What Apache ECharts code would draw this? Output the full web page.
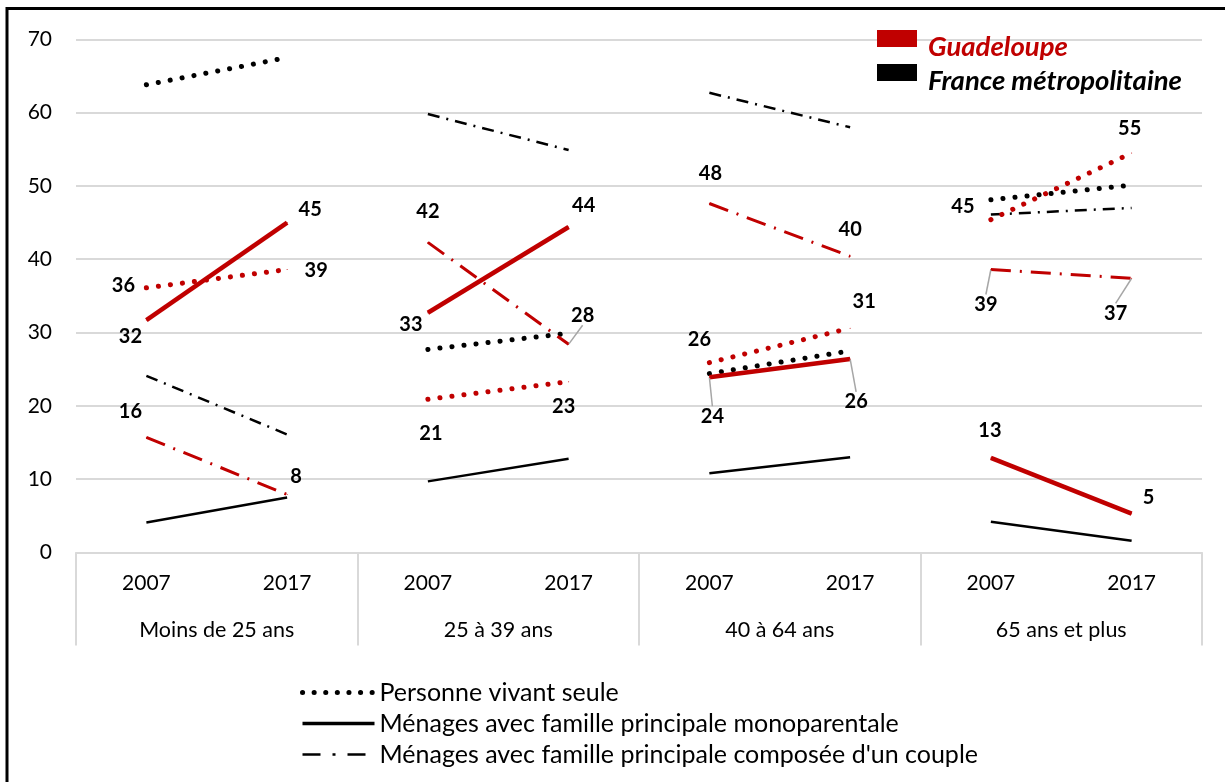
<!DOCTYPE html>
<html>
<head>
<meta charset="utf-8">
<script src="https://cdn.jsdelivr.net/npm/echarts@6/dist/echarts.min.js"></script>
<style>
  html, body { margin: 0; padding: 0; background: #fff; }
  #chart { width: 1225px; height: 782px; }
</style>
</head>
<body>
<div id="chart"></div>
<script>
// Age groups and survey years
const groups = ['Moins de 25 ans', '25 à 39 ans', '40 à 64 ans', '65 ans et plus'];
const years = ['2007', '2017'];

// Share of households (%) — order: each group, 2007 then 2017
const gdpSeule  = [36.1, 38.6, 20.9, 23.3, 25.9, 30.6, 45.4, 54.5];
const gdpMono   = [31.7, 45.0, 32.7, 44.4, 23.9, 26.4, 12.9, 5.3];
const gdpCouple = [15.7, 7.9, 42.3, 28.4, 47.6, 40.4, 38.6, 37.4];
const frSeule   = [63.8, 67.5, 27.7, 29.9, 24.4, 27.5, 48.1, 50.1];
const frMono    = [4.1, 7.5, 9.7, 12.8, 10.8, 13.0, 4.2, 1.6];
const frCouple  = [24.1, 16.1, 59.8, 54.9, 62.7, 58.0, 46.1, 47.0];

// Value axis
const yMin = 0, yMax = 70, yStep = 10;

// Legend entries
const areaNames = ['Guadeloupe', 'France métropolitaine'];
const typeNames = [
  'Personne vivant seule',
  'Ménages avec famille principale monoparentale',
  "Ménages avec famille principale composée d'un couple"
];

const RED = '#c00000';
const BLACK = '#000000';
const GRID = '#d9d9d9';
const FONT = 'Lato, "Open Sans", sans-serif';

const categories = [];
groups.forEach(() => years.forEach(y => categories.push(y)));

// Line looks per household type and area
const looks = {
  seule:  { gdp: { type: [0.1, 12], width: 5, cap: 'round' }, fr: { type: [0.1, 12], width: 5, cap: 'round' } },
  mono:   { gdp: { type: 'solid', width: 4.5, cap: 'butt' }, fr: { type: 'solid', width: 2.5, cap: 'butt' } },
  couple: { gdp: { type: [20, 9, 2, 9], width: 3, cap: 'butt' }, fr: { type: [12, 7, 2, 7], width: 2.5, cap: 'butt' } }
};

// Label placement (label centre relative to its point) and leader-line ends
const labelPlacement = {
  seule:  [[-23, -2], [29, 1], [3, 34], [-5, 25], [-10, -23], [14, -27], [-28, -13], [-2, -24]],
  mono:   [[-16, 16], [23, -13], [-17, 12], [15, -21], [3, 39], [6, 43], [-1, -27], [17, -16]],
  couple: [[-16, -26], [9, -18], [0, -31], [14, -29], [1, -30], [0, -27], [-5, 35], [-16, 35]]
};
const leaders = {
  seule: {},
  mono: { 4: [0, -19], 5: [0, -19] },
  couple: { 3: [-1, 16], 6: [0, -18], 7: [0, -18] }
};

function segmentSeries(values, kind, area, g) {
  const color = area === 'gdp' ? RED : BLACK;
  const labelled = area === 'gdp';
  const data = new Array(categories.length).fill('-');
  for (let k = 0; k < years.length; k++) {
    const i = g * years.length + k;
    if (labelled && leaders[kind][i]) {
      data[i] = { value: values[i], labelLine: { show: true, lineStyle: { color: '#a6a6a6', width: 1.5 } } };
    } else {
      data[i] = values[i];
    }
  }
  const s = {
    name: area + '-' + kind + '-' + g,
    type: 'line',
    xAxisIndex: 0,
    yAxisIndex: 0,
    data: data,
    connectNulls: false,
    showSymbol: labelled,
    symbol: 'circle',
    symbolSize: 1,
    itemStyle: { color: color },
    lineStyle: Object.assign({ color: color }, looks[kind][area]),
    emphasis: { disabled: true },
    silent: true,
    z: area === 'gdp' ? 3 : 2
  };
  if (labelled) {
    s.label = {
      show: true,
      position: 'inside',
      formatter: p => String(Math.round(p.value)),
      fontFamily: FONT,
      fontWeight: 'bold',
      fontSize: 20,
      color: '#000'
    };
    s.labelLayout = function (params) {
      const i = params.dataIndex;
      const off = labelPlacement[kind][i];
      const cx = params.rect.x + params.rect.width / 2;
      const cy = params.rect.y + params.rect.height / 2;
      const res = { x: cx + off[0], y: cy + off[1], align: 'center', verticalAlign: 'middle' };
      const ld = leaders[kind][i];
      if (ld) {
        res.labelLinePoints = [[cx, cy], [cx + off[0] + ld[0], cy + off[1] + ld[1]]];
      }
      return res;
    };
  }
  return s;
}

const series = [];
const sets = [
  ['fr', 'seule', frSeule], ['fr', 'mono', frMono], ['fr', 'couple', frCouple],
  ['gdp', 'seule', gdpSeule], ['gdp', 'mono', gdpMono], ['gdp', 'couple', gdpCouple]
];
sets.forEach(([area, kind, values]) => {
  groups.forEach((_, g) => series.push(segmentSeries(values, kind, area, g)));
});

// Legend carriers
series.push({ name: areaNames[0], type: 'line', data: [], itemStyle: { color: RED }, lineStyle: { color: RED } });
series.push({ name: areaNames[1], type: 'line', data: [], itemStyle: { color: BLACK }, lineStyle: { color: BLACK } });
const legendLooks = [
  { color: BLACK, type: [0.1, 11.5], width: 5, cap: 'round' },
  { color: BLACK, type: 'solid', width: 3.5, cap: 'butt' },
  { color: BLACK, type: [18, 12, 3, 12], width: 2.5, cap: 'butt' }
];
typeNames.forEach((n, i) => {
  series.push({
    name: n, type: 'line', data: [], symbol: 'none',
    itemStyle: { color: BLACK },
    lineStyle: Object.assign({}, legendLooks[i])
  });
});

// Swatch occupying the top half of the legend item, so the name sits a little lower
const swatchIcon = 'path://M0,0H40V17H0Z M0,34L0.01,34';

const chart = echarts.init(document.getElementById('chart'), null, { renderer: 'canvas' });
chart.setOption({
  animation: false,
  backgroundColor: '#fff',
  textStyle: { fontFamily: FONT },
  grid: { left: 76, right: 23, top: 39.3, bottom: 229.5, containLabel: false, outerBoundsMode: 'none' },
  xAxis: [
    {
      type: 'category',
      data: categories,
      boundaryGap: true,
      position: 'bottom',
      axisLine: { show: true, lineStyle: { color: GRID, width: 2 } },
      axisTick: { show: false },
      axisLabel: { interval: 0, margin: 20, fontSize: 21, color: '#000', fontFamily: FONT },
      splitLine: { show: false }
    },
    {
      type: 'category',
      data: groups,
      boundaryGap: true,
      position: 'bottom',
      offset: 0,
      axisLine: { show: false },
      axisTick: { show: true, length: 93, lineStyle: { color: GRID, width: 2 } },
      axisLabel: { interval: 0, margin: 67, fontSize: 21.5, color: '#000', fontFamily: FONT },
      splitLine: { show: false }
    }
  ],
  yAxis: {
    type: 'value',
    min: yMin,
    max: yMax,
    interval: yStep,
    axisLine: { show: false },
    axisTick: { show: false },
    axisLabel: { margin: 24, fontSize: 21, color: '#000', fontFamily: FONT },
    splitLine: { show: true, lineStyle: { color: GRID, width: 2 } }
  },
  legend: [
    {
      data: [
        { name: areaNames[0], textStyle: { color: RED } },
        { name: areaNames[1], textStyle: { color: BLACK } }
      ],
      orient: 'vertical',
      left: 872,
      top: 25,
      icon: swatchIcon,
      itemWidth: 40,
      itemHeight: 34,
      itemGap: 0,
      selectedMode: false,
      textStyle: {
        fontFamily: FONT, fontSize: 27.5, fontWeight: 'bold', fontStyle: 'italic',
        lineHeight: 30, padding: [0, 0, 0, 6]
      }
    },
    {
      data: typeNames.map((n, i) => ({ name: n, lineStyle: legendLooks[i] })),
      orient: 'vertical',
      left: 295,
      top: 675,
      itemWidth: 72,
      itemHeight: 14,
      itemGap: 6,
      selectedMode: false,
      itemStyle: { color: 'transparent', borderColor: 'transparent', borderWidth: 0 },
      textStyle: { fontFamily: FONT, fontSize: 25, color: '#000', padding: [0, 0, 0, 0] }
    }
  ],
  graphic: [
    {
      type: 'rect',
      silent: true,
      shape: { x: 7, y: 8.5, width: 1400, height: 1000 },
      style: { fill: 'none', stroke: '#000', lineWidth: 3 }
    }
  ],
  series: series
});
</script>
</body>
</html>
